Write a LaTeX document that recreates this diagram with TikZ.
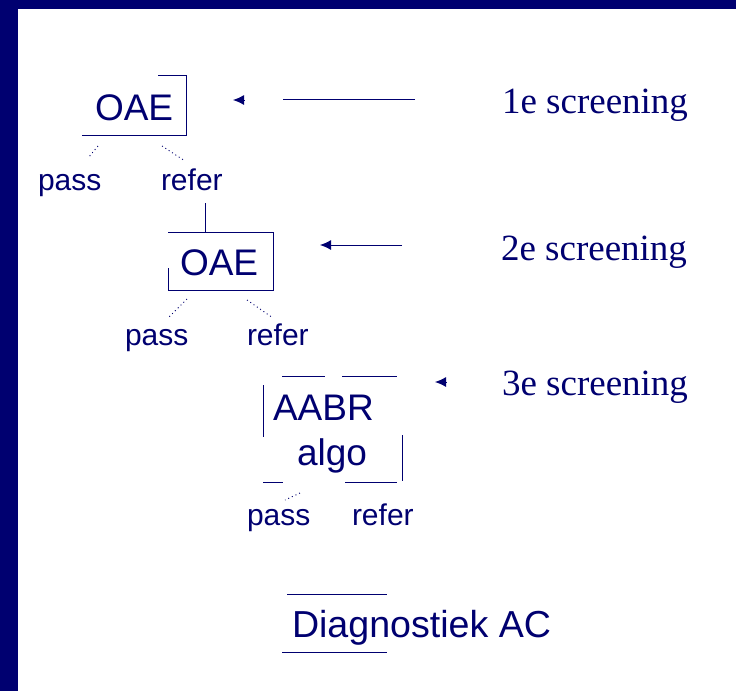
\documentclass[tikz,border=0pt]{standalone}
\usepackage{fontspec}
\setmainfont{Liberation Serif}
\setsansfont{Liberation Sans}
\usetikzlibrary{arrows.meta}
\definecolor{navy}{RGB}{0,0,112}
\begin{document}
\begin{tikzpicture}[x=1pt, y=-1pt,
  every node/.style={inner sep=0pt, outer sep=0pt, anchor=base west, text=navy},
  big/.style={font=\sffamily\fontsize{37}{40}\selectfont},
  small/.style={font=\sffamily\fontsize{30}{33}\selectfont},
  serif/.style={font=\rmfamily\fontsize{37}{40}\selectfont},
  boxline/.style={draw=navy, line width=1pt},
  dotline/.style={draw=navy, line width=0.9pt, dash pattern=on 1pt off 3pt},
  ray/.style={draw=navy, line width=1pt},
  tip/.style={draw=navy, line width=1pt, -{Latex[length=11pt,width=10pt]}}]
\useasboundingbox (0,0) rectangle (736,691);
\fill[white] (0,0) rectangle (736,691);
% frame bands
\fill[navy] (0,0) rectangle (736,8.5);
\fill[navy] (0,0) rectangle (17.5,691);

% texts
\node[big] (oae1) at (95,120) {OAE};
\node[serif] (s1) at (502,113) {1e screening};
\node[small] (pass1) at (38,190) {pass};
\node[small] (refer1) at (161,190) {refer};
\node[big] (oae2) at (180,275) {OAE};
\node[serif] (s2) at (501,260) {2e screening};
\node[small] (pass2) at (125,345) {pass};
\node[small] (refer2) at (247,345) {refer};
\node[big] (aabr) at (273,420) {AABR};
\node[big] (algo) at (297,465) {algo};
\node[serif] (s3) at (502,395) {3e screening};
\node[small] (pass3) at (247,525) {pass};
\node[small] (refer3) at (352,525) {refer};
\node[big, font=\sffamily\fontsize{37.6}{40}\selectfont] (diag) at (292,637) {Diagnostiek AC};

% box outlines
\draw[boxline] (158,75) -- (186,75) -- (186,135) -- (82,135);
\draw[boxline] (168,268) -- (168,290) -- (273,290) -- (273,232) -- (168,232);
\draw[boxline] (282,376) -- (325,376);
\draw[boxline] (342,376) -- (397,376);
\draw[boxline] (263,385) -- (263,437);
\draw[boxline] (402,435) -- (402,481);
\draw[boxline] (263,482) -- (283,482);
\draw[boxline] (345,482) -- (397,482);
\draw[boxline] (287,594) -- (387,594);
\draw[boxline] (282,652) -- (387,652);

% branches
\coordinate (b1p) at (98,146);  \coordinate (e1p) at (88,158);
\coordinate (b1r) at (162,146); \coordinate (e1r) at (185,161);
\coordinate (b2p) at (187,299); \coordinate (e2p) at (168,318);
\coordinate (b2r) at (247,300); \coordinate (e2r) at (273,318);
\coordinate (b3p) at (300,493); \coordinate (e3p) at (285,500);
\draw[dotline] (b1p) -- (e1p);
\draw[dotline] (b1r) -- (e1r);
\draw[dotline] (b2p) -- (e2p);
\draw[dotline] (b2r) -- (e2r);
\draw[dotline] (b3p) -- (e3p);
\coordinate (r1) at (205,203);
\coordinate (t2) at (205,232);
\draw[boxline] (r1) -- (t2);

% screening arrows
\coordinate (a1s) at (415,99);  \coordinate (a1g) at (283,99);
\coordinate (a1h) at (244,100); \coordinate (a1e) at (233,100);
\draw[ray] (a1s) -- (a1g);
\draw[tip] (a1h) -- (a1e);
\coordinate (a2s) at (402,245); \coordinate (a2e) at (320,245);
\draw[tip] (a2s) -- (a2e);
\coordinate (a3h) at (446,382); \coordinate (a3e) at (435,382);
\draw[tip] (a3h) -- (a3e);
\end{tikzpicture}
\end{document}
